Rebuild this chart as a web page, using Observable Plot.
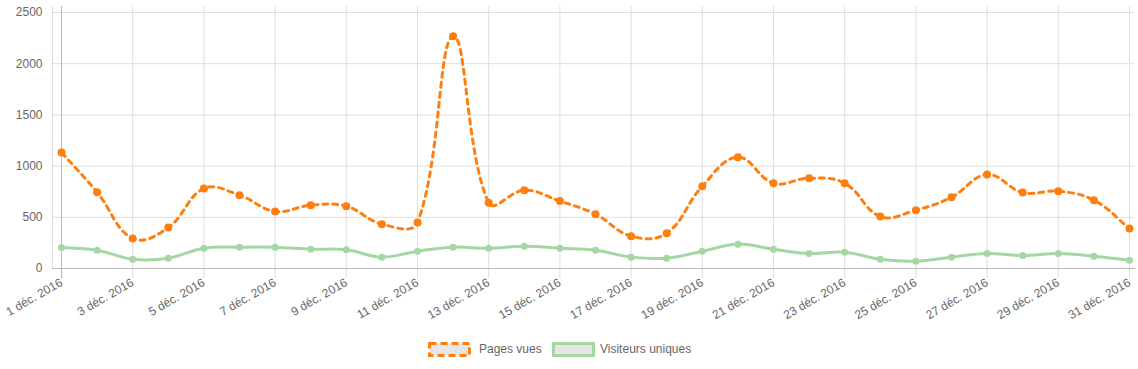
<!DOCTYPE html>
<html>
<head>
<meta charset="utf-8">
<script src="https://cdn.jsdelivr.net/npm/d3@7"></script>
<script src="https://cdn.jsdelivr.net/npm/@observablehq/plot@0.6"></script>
<style>
  html, body { margin: 0; padding: 0; background: #fff; }
  #wrap { width: 1138px; font-family: "Liberation Sans", Arial, sans-serif; font-size: 12px; color: #666; }
  #legend { position: relative; height: 39px; width: 1138px; }
  #legend svg, #legend span { position: absolute; }
  #legend span { line-height: 15px; white-space: nowrap; }
</style>
</head>
<body>
<div id="wrap"></div>
<script>
const days = [1,2,3,4,5,6,7,8,9,10,11,12,13,14,15,16,17,18,19,20,21,22,23,24,25,26,27,28,29,30,31];
const pagesVues = [1133, 745, 293, 400, 781, 716, 557, 618, 608, 433, 449, 2269, 641, 765, 658, 530, 316, 345, 804, 1087, 833, 882, 833, 508, 570, 696, 918, 742, 755, 667, 391];
const visiteurs = [205, 179, 91, 101, 198, 208, 208, 189, 182, 111, 169, 208, 198, 218, 198, 179, 111, 101, 169, 238, 189, 146, 159, 91, 72, 111, 146, 127, 146, 120, 81];
const xTicks = [1,3,5,7,9,11,13,15,17,19,21,23,25,27,29,31];
const xTickLabels = ["1 déc. 2016","3 déc. 2016","5 déc. 2016","7 déc. 2016","9 déc. 2016","11 déc. 2016","13 déc. 2016","15 déc. 2016","17 déc. 2016","19 déc. 2016","21 déc. 2016","23 déc. 2016","25 déc. 2016","27 déc. 2016","29 déc. 2016","31 déc. 2016"];
const yTicks = [0, 500, 1000, 1500, 2000, 2500];
const yTickLabels = ["0", "500", "1000", "1500", "2000", "2500"];
const seriesNames = ["Pages vues", "Visiteurs uniques"];

const orange = "#ff7f0e";
const green = "#a4d7a4";
const gridColor = "#dedede";

const pagesData = days.map((d, i) => ({day: d, value: pagesVues[i]}));
const visData = days.map((d, i) => ({day: d, value: visiteurs[i]}));

// Chart.js-style spline (tension 0.4)
function chartjsCurve(context) {
  let pts = [];
  return {
    areaStart() {}, areaEnd() {},
    lineStart() { pts = []; },
    point(x, y) { pts.push([+x, +y]); },
    lineEnd() {
      const n = pts.length;
      if (!n) return;
      const t = 0.4;
      const cp = pts.map((p, i) => {
        const prev = pts[Math.max(0, i - 1)], next = pts[Math.min(n - 1, i + 1)];
        const d01 = Math.hypot(p[0] - prev[0], p[1] - prev[1]);
        const d12 = Math.hypot(next[0] - p[0], next[1] - p[1]);
        let s01 = d01 / (d01 + d12), s12 = d12 / (d01 + d12);
        if (isNaN(s01)) s01 = 0;
        if (isNaN(s12)) s12 = 0;
        const fa = t * s01, fb = t * s12;
        return {
          px: p[0] - fa * (next[0] - prev[0]), py: p[1] - fa * (next[1] - prev[1]),
          nx: p[0] + fb * (next[0] - prev[0]), ny: p[1] + fb * (next[1] - prev[1])
        };
      });
      context.moveTo(pts[0][0], pts[0][1]);
      for (let i = 1; i < n; i++) {
        context.bezierCurveTo(cp[i - 1].nx, cp[i - 1].ny, cp[i].px, cp[i].py, pts[i][0], pts[i][1]);
      }
    }
  };
}

const chart = Plot.plot({
  width: 1138,
  height: 330,
  marginLeft: 52,
  marginRight: 4,
  marginTop: 6,
  marginBottom: 62,
  style: {fontFamily: "'Liberation Sans', Arial, sans-serif", fontSize: "12px", color: "#666", background: "#fff", overflow: "visible"},
  x: {domain: [days[0], days[days.length - 1]], range: [61, 1129], axis: null},
  y: {domain: [yTicks[0], yTicks[yTicks.length - 1]], range: [268, 12], axis: null},
  marks: [
    Plot.gridY(yTicks, {stroke: gridColor, strokeOpacity: 1}),
    Plot.gridX(xTicks, {stroke: gridColor, strokeOpacity: 1}),
    Plot.frame({anchor: "left", stroke: gridColor, strokeOpacity: 1}),
    Plot.axisY(yTicks, {label: null, tickSize: 0, tickPadding: 10, stroke: gridColor, fill: "#666", tickFormat: d => yTickLabels[yTicks.indexOf(d)]}),
    Plot.axisX(xTicks, {label: null, tickSize: 10, tickPadding: 3, tickRotate: -30, stroke: gridColor, fill: "#666", tickFormat: d => xTickLabels[xTicks.indexOf(d)]}),
    Plot.ruleX([days[0]], {stroke: "#b8b8b8", insetBottom: -10}),
    Plot.frame({anchor: "bottom", stroke: "#b8b8b8", strokeOpacity: 1}),
    Plot.line(visData, {x: "day", y: "value", stroke: green, strokeWidth: 3, curve: chartjsCurve}),
    Plot.dot(visData, {x: "day", y: "value", r: 3.5, fill: green, stroke: null}),
    Plot.line(pagesData, {x: "day", y: "value", stroke: orange, strokeWidth: 3, strokeDasharray: "5,5", curve: chartjsCurve}),
    Plot.dot(pagesData, {x: "day", y: "value", r: 4, fill: orange, stroke: null})
  ]
});

const wrap = document.getElementById("wrap");
wrap.appendChild(chart);

const legend = document.createElement("div");
legend.id = "legend";
legend.innerHTML = `
  <svg style="left:428px;top:12px" width="43" height="15"><rect x="1.5" y="1.5" width="40" height="12" fill="#e6e6e6" stroke="${orange}" stroke-width="3" stroke-dasharray="7,4"/></svg>
  <span style="left:479px;top:12px">${seriesNames[0]}</span>
  <svg style="left:552px;top:12px" width="43" height="15"><rect x="1.5" y="1.5" width="40" height="12" fill="#e6e6e6" stroke="${green}" stroke-width="3"/></svg>
  <span style="left:600px;top:12px">${seriesNames[1]}</span>
`;
wrap.appendChild(legend);
</script>
</body>
</html>
